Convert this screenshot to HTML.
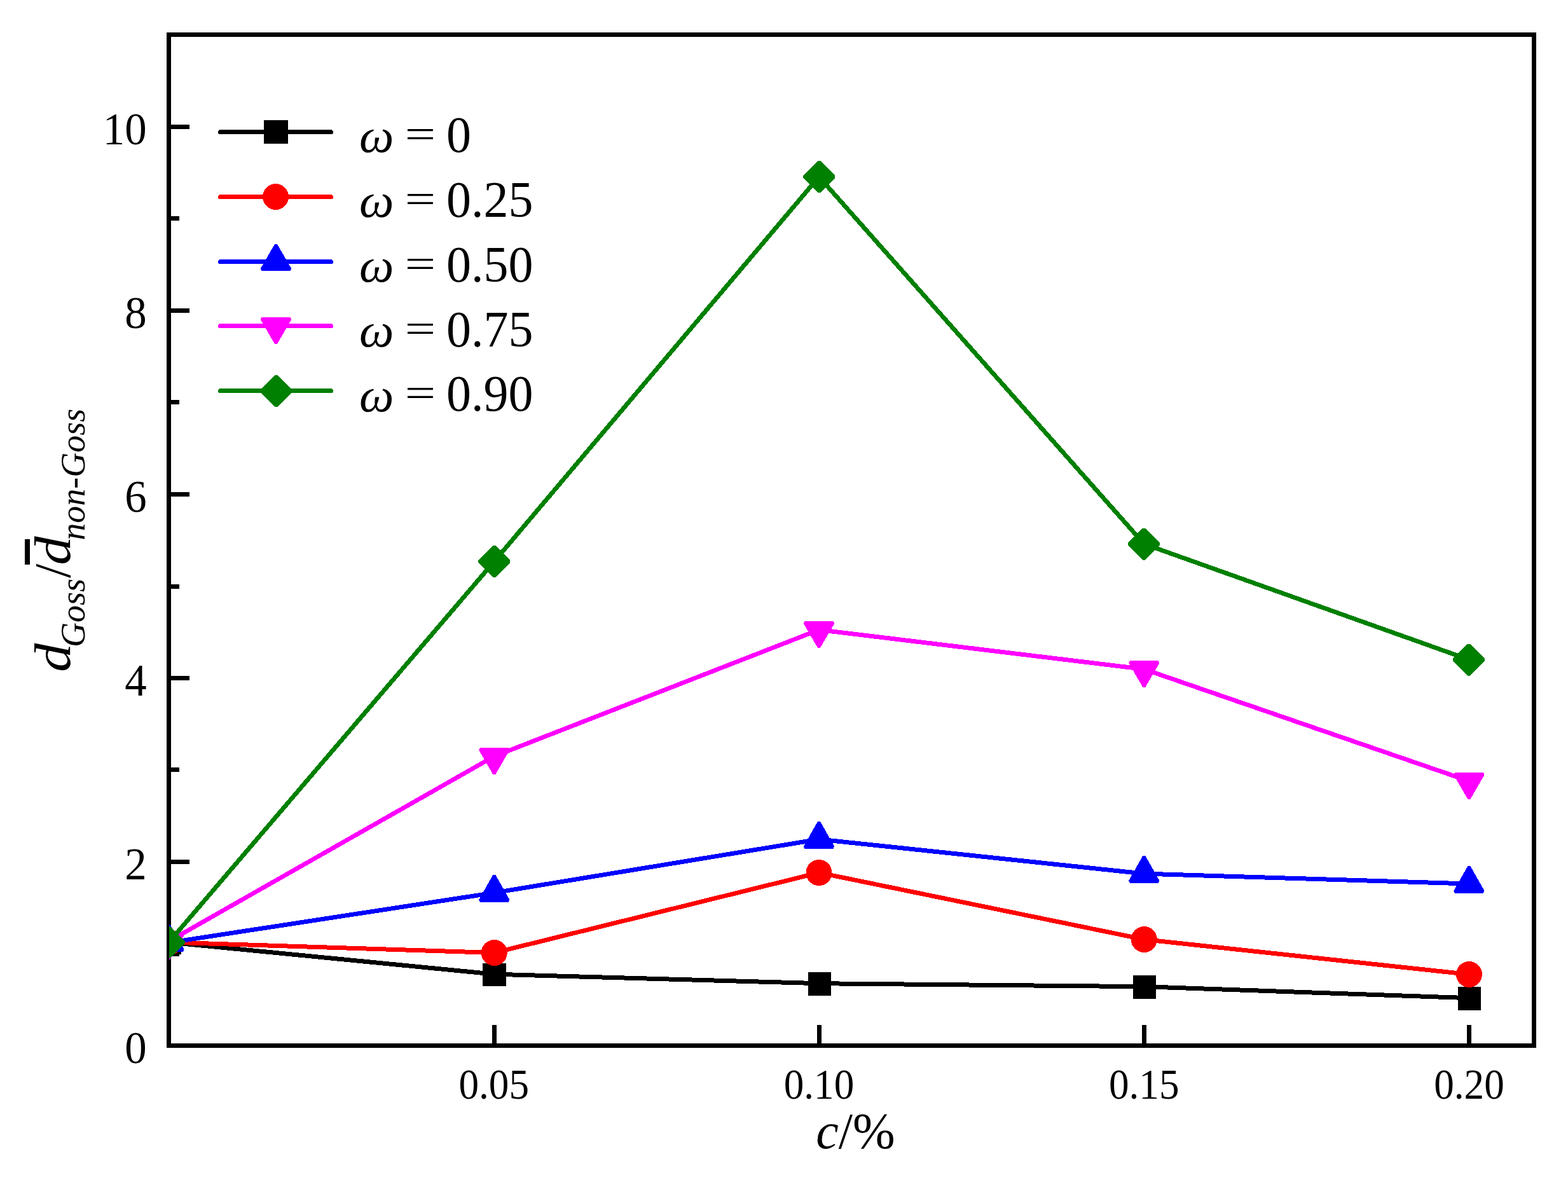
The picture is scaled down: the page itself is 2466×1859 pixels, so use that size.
<!DOCTYPE html>
<html lang="en"><head><meta charset="utf-8"><title>Grain size ratio chart</title>
<style>
html,body{margin:0;padding:0;background:#fff;}
body{width:2466px;height:1859px;overflow:hidden;}
svg{display:block;}
text{font-family:"Liberation Serif",serif;fill:#000;}
.it{font-style:italic;}
</style></head><body>
<svg width="2466" height="1859" viewBox="0 0 2466 1859">
<rect x="0" y="0" width="2466" height="1859" fill="#fff"/>
<defs><clipPath id="ax"><rect x="266" y="54.5" width="2146.5" height="1590.0"/></clipPath></defs>
<g fill="#000" shape-rendering="crispEdges">
<rect x="266" y="196" width="32" height="7"/>
<rect x="266" y="485" width="32" height="7"/>
<rect x="266" y="774" width="32" height="7"/>
<rect x="266" y="1063" width="32" height="7"/>
<rect x="266" y="1352" width="32" height="7"/>
<rect x="266" y="340" width="16" height="7"/>
<rect x="266" y="629" width="16" height="7"/>
<rect x="266" y="919" width="16" height="7"/>
<rect x="266" y="1207" width="16" height="7"/>
<rect x="266" y="1497" width="16" height="7"/>
<rect x="774" y="1612" width="7" height="32"/>
<rect x="1285" y="1612" width="7" height="32"/>
<rect x="1796" y="1612" width="7" height="32"/>
<rect x="2307" y="1612" width="7" height="32"/>
<rect x="265.5" y="54.5" width="2147.0" height="1590.0" fill="none" stroke="#000" stroke-width="7"/>
</g>
<g clip-path="url(#ax)" shape-rendering="crispEdges">
<polyline points="265.50,1482.00 777.30,1532.20 1288.00,1546.70 1799.30,1551.70 2310.40,1569.70" fill="none" stroke="#000000" stroke-width="7" stroke-linejoin="round" stroke-linecap="round"/>
<rect x="248" y="1464" width="37" height="37" fill="#000000"/>
<rect x="759" y="1515" width="37" height="36" fill="#000000"/>
<rect x="1271" y="1529" width="36" height="37" fill="#000000"/>
<rect x="1782" y="1534" width="36" height="37" fill="#000000"/>
<rect x="2293" y="1552" width="36" height="37" fill="#000000"/>
<polyline points="265.50,1482.00 777.30,1498.50 1288.00,1372.50 1799.30,1477.50 2310.40,1532.50" fill="none" stroke="#ff0000" stroke-width="7" stroke-linejoin="round" stroke-linecap="round"/>
<circle cx="265.50" cy="1482.00" r="20.5" fill="#ff0000"/>
<circle cx="777.30" cy="1498.50" r="20.5" fill="#ff0000"/>
<circle cx="1288.00" cy="1372.50" r="20.5" fill="#ff0000"/>
<circle cx="1799.30" cy="1477.50" r="20.5" fill="#ff0000"/>
<circle cx="2310.40" cy="1532.50" r="20.5" fill="#ff0000"/>
<polyline points="265.50,1482.60 777.30,1404.10 1288.00,1320.00 1799.30,1374.10 2310.40,1390.00" fill="none" stroke="#0000ff" stroke-width="7" stroke-linejoin="round" stroke-linecap="round"/>
<polygon points="263.50,1454.00 267.50,1454.00 289.70,1493.10 287.90,1496.80 243.10,1496.80 241.30,1493.10" fill="#0000ff"/>
<polygon points="775.30,1376.00 779.30,1376.00 801.50,1415.10 799.70,1418.80 754.90,1418.80 753.10,1415.10" fill="#0000ff"/>
<polygon points="1286.00,1292.00 1290.00,1292.00 1312.20,1331.10 1310.40,1334.80 1265.60,1334.80 1263.80,1331.10" fill="#0000ff"/>
<polygon points="1797.30,1346.00 1801.30,1346.00 1823.50,1385.10 1821.70,1388.80 1776.90,1388.80 1775.10,1385.10" fill="#0000ff"/>
<polygon points="2308.40,1362.00 2312.40,1362.00 2334.60,1401.10 2332.80,1404.80 2288.00,1404.80 2286.20,1401.10" fill="#0000ff"/>
<polyline points="265.50,1480.50 777.30,1189.50 1288.00,990.50 1799.30,1052.50 2310.40,1228.50" fill="none" stroke="#ff00ff" stroke-width="7" stroke-linejoin="round" stroke-linecap="round"/>
<polygon points="263.50,1509.00 267.50,1509.00 289.70,1470.70 287.90,1467.00 243.10,1467.00 241.30,1470.70" fill="#ff00ff"/>
<polygon points="775.30,1218.00 779.30,1218.00 801.50,1179.70 799.70,1176.00 754.90,1176.00 753.10,1179.70" fill="#ff00ff"/>
<polygon points="1286.00,1019.00 1290.00,1019.00 1312.20,980.70 1310.40,977.00 1265.60,977.00 1263.80,980.70" fill="#ff00ff"/>
<polygon points="1797.30,1081.00 1801.30,1081.00 1823.50,1042.70 1821.70,1039.00 1776.90,1039.00 1775.10,1042.70" fill="#ff00ff"/>
<polygon points="2308.40,1257.00 2312.40,1257.00 2334.60,1218.70 2332.80,1215.00 2288.00,1215.00 2286.20,1218.70" fill="#ff00ff"/>
<polyline points="265.50,1482.00 777.30,883.00 1288.00,278.00 1799.30,855.50 2310.40,1037.50" fill="none" stroke="#008000" stroke-width="7" stroke-linejoin="round" stroke-linecap="round"/>
<polygon points="263.50,1457.00 267.50,1457.00 290.50,1480.00 290.50,1484.00 267.50,1507.00 263.50,1507.00 240.50,1484.00 240.50,1480.00" fill="#008000"/>
<polygon points="775.30,858.00 779.30,858.00 802.30,881.00 802.30,885.00 779.30,908.00 775.30,908.00 752.30,885.00 752.30,881.00" fill="#008000"/>
<polygon points="1286.00,253.00 1290.00,253.00 1313.00,276.00 1313.00,280.00 1290.00,303.00 1286.00,303.00 1263.00,280.00 1263.00,276.00" fill="#008000"/>
<polygon points="1797.30,830.50 1801.30,830.50 1824.30,853.50 1824.30,857.50 1801.30,880.50 1797.30,880.50 1774.30,857.50 1774.30,853.50" fill="#008000"/>
<polygon points="2308.40,1012.50 2312.40,1012.50 2335.40,1035.50 2335.40,1039.50 2312.40,1062.50 2308.40,1062.50 2285.40,1039.50 2285.40,1035.50" fill="#008000"/>
</g>
<text transform="translate(230.70,1671.80) scale(0.97,1.02)" font-size="71" text-anchor="end">0</text>
<text transform="translate(230.70,1382.80) scale(0.97,1.02)" font-size="71" text-anchor="end">2</text>
<text transform="translate(230.70,1093.80) scale(0.97,1.02)" font-size="71" text-anchor="end">4</text>
<text transform="translate(230.70,804.80) scale(0.97,1.02)" font-size="71" text-anchor="end">6</text>
<text transform="translate(230.70,515.80) scale(0.97,1.02)" font-size="71" text-anchor="end">8</text>
<text transform="translate(230.70,226.80) scale(0.97,1.02)" font-size="71" text-anchor="end">10</text>
<text transform="translate(776.75,1727.50) scale(0.95,1.02)" font-size="66.5" text-anchor="middle">0.05</text>
<text transform="translate(1288.00,1727.50) scale(0.95,1.02)" font-size="66.5" text-anchor="middle">0.10</text>
<text transform="translate(1799.25,1727.50) scale(0.95,1.02)" font-size="66.5" text-anchor="middle">0.15</text>
<text transform="translate(2310.50,1727.50) scale(0.95,1.02)" font-size="66.5" text-anchor="middle">0.20</text>
<text transform="translate(1283.2,1806.1)" font-size="80"><tspan class="it">c</tspan>/%</text>
<g transform="translate(109.5,1054.4) rotate(-90)">
<text class="it" font-size="80" transform="translate(-2.6,0) scale(1.13,1)">d</text>
<text class="it" font-size="54" x="36.3" y="23">Goss</text>
<text font-size="80" x="145.3" y="0">/</text>
<text class="it" font-size="80" transform="translate(165.6,0) scale(1.13,1)">d</text>
<rect x="166.4" y="-70.6" width="40.1" height="8.3" fill="#000" shape-rendering="crispEdges"/>
<text class="it" font-size="54" x="204.7" y="23">non-Goss</text>
</g>
<g shape-rendering="crispEdges">
<line x1="346.5" y1="207.50" x2="520.5" y2="207.50" stroke="#000000" stroke-width="7" stroke-linecap="round"/>
<rect x="415.00" y="189.00" width="38" height="37" fill="#000000"/>
</g>
<text transform="translate(565.10,239.30)" font-size="77" text-anchor="start" class="it">ω</text>
<text transform="translate(636.70,232.25) scale(1.1,0.82)" font-size="78" text-anchor="start">=</text>
<text transform="translate(702.00,239.20) scale(1.0,1.026)" font-size="78" text-anchor="start">0</text>
<g shape-rendering="crispEdges">
<line x1="346.5" y1="309.50" x2="520.5" y2="309.50" stroke="#ff0000" stroke-width="7" stroke-linecap="round"/>
<circle cx="433.50" cy="309.50" r="20.5" fill="#ff0000"/>
</g>
<text transform="translate(565.10,341.10)" font-size="77" text-anchor="start" class="it">ω</text>
<text transform="translate(636.70,334.05) scale(1.1,0.82)" font-size="78" text-anchor="start">=</text>
<text transform="translate(702.00,341.00) scale(1.0,1.026)" font-size="78" text-anchor="start">0.25</text>
<g shape-rendering="crispEdges">
<line x1="346.5" y1="411.50" x2="520.5" y2="411.50" stroke="#0000ff" stroke-width="7" stroke-linecap="round"/>
<polygon points="432.00,384.00 436.00,384.00 458.20,422.30 456.40,426.00 411.60,426.00 409.80,422.30" fill="#0000ff"/>
</g>
<text transform="translate(565.10,442.90)" font-size="77" text-anchor="start" class="it">ω</text>
<text transform="translate(636.70,435.85) scale(1.1,0.82)" font-size="78" text-anchor="start">=</text>
<text transform="translate(702.00,442.80) scale(1.0,1.026)" font-size="78" text-anchor="start">0.50</text>
<g shape-rendering="crispEdges">
<line x1="346.5" y1="512.50" x2="520.5" y2="512.50" stroke="#ff00ff" stroke-width="7" stroke-linecap="round"/>
<polygon points="432.00,541.00 436.00,541.00 458.20,502.70 456.40,499.00 411.60,499.00 409.80,502.70" fill="#ff00ff"/>
</g>
<text transform="translate(565.10,544.70)" font-size="77" text-anchor="start" class="it">ω</text>
<text transform="translate(636.70,537.65) scale(1.1,0.82)" font-size="78" text-anchor="start">=</text>
<text transform="translate(702.00,544.60) scale(1.0,1.026)" font-size="78" text-anchor="start">0.75</text>
<g shape-rendering="crispEdges">
<line x1="346.5" y1="614.50" x2="520.5" y2="614.50" stroke="#008000" stroke-width="7" stroke-linecap="round"/>
<polygon points="432.00,590.00 436.00,590.00 459.00,613.00 459.00,617.00 436.00,640.00 432.00,640.00 409.00,617.00 409.00,613.00" fill="#008000"/>
</g>
<text transform="translate(565.10,646.50)" font-size="77" text-anchor="start" class="it">ω</text>
<text transform="translate(636.70,639.45) scale(1.1,0.82)" font-size="78" text-anchor="start">=</text>
<text transform="translate(702.00,646.40) scale(1.0,1.026)" font-size="78" text-anchor="start">0.90</text>
</svg></body></html>
